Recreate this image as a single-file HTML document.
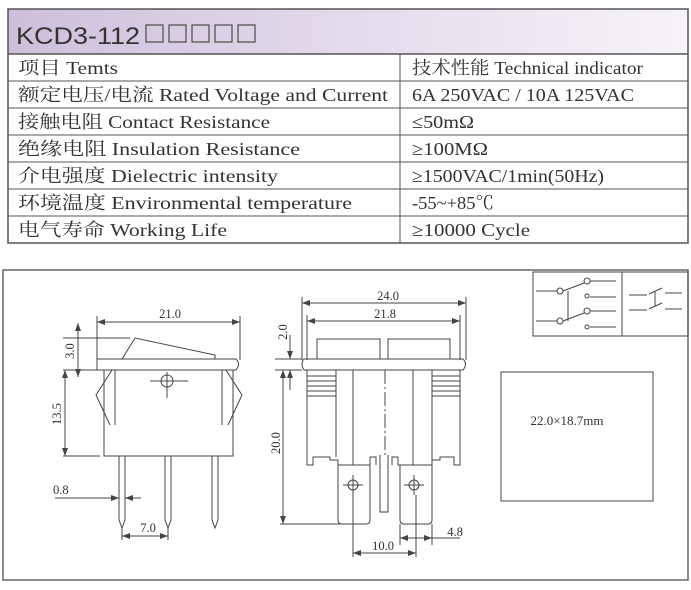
<!DOCTYPE html>
<html><head><meta charset="utf-8"><style>
body{margin:0;background:#fff;}
svg{display:block}
text{font-family:"Liberation Serif","Noto Serif CJK SC",serif;fill:#333}
</style></head><body>
<svg width="691" height="590" viewBox="0 0 691 590" xmlns="http://www.w3.org/2000/svg">
<defs>
<linearGradient id="g" x1="0" x2="1" y1="0" y2="0">
<stop offset="0" stop-color="#cdbfdc"/><stop offset="0.6" stop-color="#e8e0ee"/><stop offset="1" stop-color="#f6f3f8"/>
</linearGradient>
<marker id="a" markerWidth="8" markerHeight="6" refX="8" refY="3" orient="auto-start-reverse"><path d="M0,0 L8,3 L0,6 z" fill="#444"/></marker>
</defs>
<!-- table -->
<rect x="8" y="9" width="680" height="45" fill="url(#g)"/>
<rect x="8" y="9" width="680" height="234" fill="none" stroke="#555" stroke-width="1.5"/>
<text x="16" y="44" style="font-family:'Liberation Sans',sans-serif" font-size="24" fill="#444" textLength="124" lengthAdjust="spacingAndGlyphs">KCD3-112</text>
<g fill="none" stroke="#555" stroke-width="1.3">
<rect x="146" y="25" width="17" height="17"/><rect x="169" y="25" width="17" height="17"/><rect x="192" y="25" width="17" height="17"/><rect x="215" y="25" width="17" height="17"/><rect x="238" y="25" width="17" height="17"/>
</g>
<g stroke="#555" stroke-width="1">
<line x1="8" y1="54" x2="688" y2="54" stroke-width="1.5"/>
<line x1="8" y1="81" x2="688" y2="81"/><line x1="8" y1="108" x2="688" y2="108"/>
<line x1="8" y1="135" x2="688" y2="135"/><line x1="8" y1="162" x2="688" y2="162"/>
<line x1="8" y1="189" x2="688" y2="189"/><line x1="8" y1="216" x2="688" y2="216"/>
<line x1="400" y1="54" x2="400" y2="243"/>
</g>
<g font-size="18" lengthAdjust="spacingAndGlyphs">
<text x="18" y="74" textLength="100" lengthAdjust="spacingAndGlyphs">项目 Temts</text>
<text x="18" y="101" textLength="370" lengthAdjust="spacingAndGlyphs">额定电压/电流  Rated Voltage and Current</text>
<text x="18" y="128" textLength="252" lengthAdjust="spacingAndGlyphs">接触电阻 Contact Resistance</text>
<text x="18" y="155" textLength="282" lengthAdjust="spacingAndGlyphs">绝缘电阻   Insulation Resistance</text>
<text x="18" y="182" textLength="260" lengthAdjust="spacingAndGlyphs">介电强度  Dielectric intensity</text>
<text x="18" y="209" textLength="334" lengthAdjust="spacingAndGlyphs">环境温度  Environmental  temperature</text>
<text x="18" y="236" textLength="209" lengthAdjust="spacingAndGlyphs">电气寿命  Working Life</text>
<text x="412" y="74" textLength="231" lengthAdjust="spacingAndGlyphs">技术性能 Technical indicator</text>
<text x="412" y="101" textLength="222" lengthAdjust="spacingAndGlyphs">6A  250VAC / 10A 125VAC</text>
<text x="412" y="128" textLength="62" lengthAdjust="spacingAndGlyphs">≤50mΩ</text>
<text x="412" y="155" textLength="76" lengthAdjust="spacingAndGlyphs">≥100MΩ</text>
<text x="412" y="182" textLength="192" lengthAdjust="spacingAndGlyphs">≥1500VAC/1min(50Hz)</text>
<text x="412" y="209" textLength="82" lengthAdjust="spacingAndGlyphs">-55~+85℃</text>
<text x="412" y="236" textLength="118" lengthAdjust="spacingAndGlyphs">≥10000 Cycle</text>
</g>
<!-- lower box -->
<rect x="3" y="270" width="685" height="310" fill="none" stroke="#666" stroke-width="1.5"/>
<g fill="none" stroke="#444" stroke-width="1">
<!-- left drawing -->
<line x1="97" y1="316" x2="97" y2="360"/><line x1="240" y1="316" x2="240" y2="360"/>
<line x1="97" y1="322" x2="240" y2="322" marker-start="url(#a)" marker-end="url(#a)"/>
<path d="M97,359 H236 Q241,364 236,370 H97 Z"/>
<path d="M122,359 L135,338 L215,355 V359"/>
<path d="M104,370 V456 H233 V370"/>
<path d="M112,370 L96,395 L110,425 M115,370 V425 M226,370 L242,395 L228,425 M222,370 V425"/>
<circle cx="167" cy="381" r="6"/><line x1="150" y1="381" x2="188" y2="381"/><line x1="167" y1="372" x2="167" y2="398"/>
<path d="M119,456 V520 L122,528 L125,520 V456 M165,456 V520 L168,528 L171,520 V456 M212,456 V520 L215,528 L218,520 V456"/>
<line x1="63" y1="338" x2="130" y2="338"/><line x1="63" y1="370" x2="97" y2="370"/>
<line x1="78" y1="323" x2="78" y2="377" marker-start="url(#a)" marker-end="url(#a)"/>
<line x1="65" y1="370" x2="65" y2="456" marker-start="url(#a)" marker-end="url(#a)"/>
<line x1="63" y1="456" x2="100" y2="456"/>
<line x1="55" y1="498" x2="119" y2="498" marker-end="url(#a)"/><line x1="141" y1="498" x2="125" y2="498" marker-end="url(#a)"/>
<line x1="122" y1="528" x2="122" y2="540"/><line x1="168" y1="528" x2="168" y2="540"/>
<line x1="122" y1="536" x2="168" y2="536" marker-start="url(#a)" marker-end="url(#a)"/>
<!-- right drawing -->
<line x1="302" y1="297" x2="302" y2="360"/><line x1="466" y1="297" x2="466" y2="360"/>
<line x1="307" y1="315" x2="307" y2="360"/><line x1="460" y1="315" x2="460" y2="360"/>
<line x1="302" y1="303" x2="466" y2="303" marker-start="url(#a)" marker-end="url(#a)"/>
<line x1="307" y1="321" x2="460" y2="321" marker-start="url(#a)" marker-end="url(#a)"/>
<rect x="317" y="339" width="63" height="20"/><rect x="388" y="339" width="62" height="20"/>
<path d="M304,359 H463 Q468,364 463,370 H304 Q300,364 304,359 Z"/>
<path d="M307,370 V465 H313 V457 H330 V460 H338 V465 H370 V457 H376 V465 M392,465 V457 H398 V465 H432 V460 H440 V457 H454 V465 H460 V370"/>
<path d="M336,370 V457 M432,370 V460 M353,370 V465 M413,370 V465"/>
<path d="M307,376 H336 M307,381 H336 M307,386 H336 M307,391 H336 M307,396 H336 M432,376 H460 M432,381 H460 M432,386 H460 M432,391 H460 M432,396 H460"/>
<line x1="385" y1="370" x2="385" y2="455" stroke-dasharray="14,3,2,3"/>
<path d="M338,465 V520 Q338,524 342,524 H366 Q370,524 370,520 V465 M400,465 V520 Q400,524 404,524 H428 Q432,524 432,520 V465"/>
<path d="M380,455 V512 H388 V455"/>
<circle cx="353" cy="485" r="5"/><line x1="343" y1="485" x2="363" y2="485"/><line x1="353" y1="475" x2="353" y2="495"/>
<circle cx="414" cy="485" r="5"/><line x1="404" y1="485" x2="424" y2="485"/><line x1="414" y1="475" x2="414" y2="495"/>
<line x1="275" y1="359" x2="302" y2="359"/><line x1="275" y1="370" x2="302" y2="370"/>
<line x1="290" y1="335" x2="290" y2="359" marker-end="url(#a)"/><line x1="290" y1="390" x2="290" y2="370" marker-end="url(#a)"/>
<line x1="283" y1="370" x2="283" y2="524" marker-start="url(#a)" marker-end="url(#a)"/>
<line x1="280" y1="524" x2="340" y2="524"/>
<line x1="353" y1="495" x2="353" y2="557"/><line x1="416" y1="495" x2="416" y2="557"/>
<line x1="353" y1="553" x2="416" y2="553" marker-start="url(#a)" marker-end="url(#a)"/>
<line x1="400" y1="524" x2="400" y2="545"/><line x1="432" y1="524" x2="432" y2="545"/>
<line x1="400" y1="538" x2="432" y2="538" marker-start="url(#a)" marker-end="url(#a)"/>
<line x1="432" y1="538" x2="460" y2="538"/>
<!-- schematic box -->
<rect x="533" y="272" width="155" height="64"/>
<line x1="622" y1="272" x2="622" y2="336"/>
<path d="M536,291 H557 M563,291 L584,283 M590,281 H616 M590,297 H616 M568,291 V321 M536,321 H557 M563,321 L584,313 M590,311 H616 M590,327 H616"/>
<circle cx="560" cy="291" r="3"/><circle cx="587" cy="281" r="3"/><circle cx="587" cy="296" r="2"/>
<circle cx="560" cy="321" r="3"/><circle cx="587" cy="311" r="3"/><circle cx="587" cy="327" r="2"/>
<path d="M629,295 H647 M649,294 L662,288 M665,293 H682 M629,310 H647 M649,309 L662,303 M665,309 H682 M655,292 V306" />
<rect x="501" y="372" width="152" height="129"/>
</g>
<g font-size="12.5" fill="#333">
<text x="170" y="318" text-anchor="middle">21.0</text>
<text transform="translate(74,351) rotate(-90)" text-anchor="middle">3.0</text>
<text transform="translate(61,414) rotate(-90)" text-anchor="middle">13.5</text>
<text x="53" y="494">0.8</text>
<text x="148" y="532" text-anchor="middle">7.0</text>
<text x="388" y="300" text-anchor="middle">24.0</text>
<text x="385" y="318" text-anchor="middle">21.8</text>
<text transform="translate(287,332) rotate(-90)" text-anchor="middle">2.0</text>
<text transform="translate(280,443) rotate(-90)" text-anchor="middle">20.0</text>
<text x="383" y="550" text-anchor="middle">10.0</text>
<text x="455" y="536" text-anchor="middle">4.8</text>
<text x="567" y="425" text-anchor="middle" font-size="13">22.0×18.7mm</text>
</g>
</svg>
</body></html>
